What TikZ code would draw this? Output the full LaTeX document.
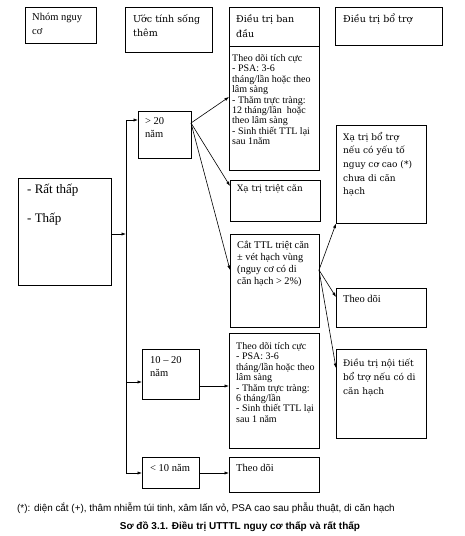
\documentclass[tikz,border=0pt]{standalone}
\usepackage{fontspec}
\setmainfont{Liberation Serif}
\newfontfamily\footfont{Liberation Sans}
\newfontfamily\cambfont{DejaVu Serif}
\usetikzlibrary{arrows.meta,calc}
\begin{document}
\begin{tikzpicture}[x=1pt,y=-1pt,
  box/.style={draw=black,line width=0.6pt,inner sep=0pt,anchor=north west},
  txt/.style={inner sep=0pt,anchor=base west,align=left},
  arr/.style={line width=0.6pt,-{Latex[length=4.5pt,width=3.2pt]}},
  ln/.style={line width=0.6pt}]
\useasboundingbox (0,0) rectangle (464,536);
% boxes
\newcommand{\mybox}[5]{\node[box,minimum width=#4-#2,minimum height=#5-#3] (#1) at (#2,#3) {};}
\mybox{h1}{25}{7}{96}{43}
\mybox{h2}{125}{7}{212}{52}
\mybox{h3}{229}{7}{319}{46}
\mybox{h4}{335}{7}{442}{45}
\mybox{L}{18}{178}{111}{285}
\mybox{a1}{138}{111}{191}{158}
\mybox{a2}{142}{349}{199}{399}
\mybox{a3}{142}{457}{199}{488}
\mybox{b1}{229}{46}{319}{170}
\mybox{b2}{230}{180}{320}{221}
\mybox{b3}{230}{234}{319}{327}
\mybox{b4}{229}{333}{319}{448}
\mybox{b5}{229}{457}{319}{492}
\mybox{c1}{336}{125}{426}{223}
\mybox{c2}{336}{288}{426}{327}
\mybox{c3}{336}{349}{426}{438}
% texts (anchor = baseline of last line)
\node[txt,font=\fontsize{10.5}{14}\selectfont] (h1t) at (32,34) {Nhóm nguy\\cơ};
\node[txt,font=\cambfont\fontsize{9.5}{14}\selectfont] (h2t) at (133,36) {Ước tính sống\\thêm};
\node[txt,font=\cambfont\fontsize{9.5}{15}\selectfont] (h3t) at (236,37) {Điều trị ban\\đầu};
\node[txt,font=\cambfont\fontsize{9.5}{14}\selectfont] (h4t) at (343,22) {Điều trị bổ trợ};
\node[txt,font=\fontsize{13}{29}\selectfont] (Lt) at (27,222) {- Rất thấp\\- Thấp};
\node[txt,font=\fontsize{10.5}{13}\selectfont] (a1t) at (145,137) {> 20\\năm};
\node[txt,font=\fontsize{10.5}{13}\selectfont] (a2t) at (150,376) {10 – 20\\năm};
\node[txt,font=\fontsize{10.5}{12}\selectfont] (a3t) at (150,471) {< 10 năm};
\node[txt,font=\fontsize{10}{10.4}\selectfont] (b1t) at (232,144.7) {Theo dõi tích cực\\- PSA: 3-6\\tháng/lần hoặc theo\\lâm sàng\\- Thăm trực tràng:\\12 tháng/lần~ hoặc\\theo lâm sàng\\- Sinh thiết TTL lại\\sau 1năm};
\node[txt,font=\cambfont\fontsize{8.8}{12}\selectfont] (b2t) at (237,191) {Xạ trị triệt căn};
\node[txt,font=\fontsize{10.3}{12}\selectfont] (b3t) at (237,284) {Cắt TTL triệt căn\\± vét hạch vùng\\(nguy cơ có di\\căn hạch > 2\%)};
\node[txt,font=\fontsize{10}{10.4}\selectfont] (b4t) at (236,422.3) {Theo dõi tích cực\\- PSA: 3-6\\tháng/lần hoặc theo\\lâm sàng\\- Thăm trực tràng:\\6 tháng/lần\\- Sinh thiết TTL lại\\sau 1 năm};
\node[txt,font=\fontsize{10.5}{12}\selectfont] (b5t) at (236,471) {Theo dõi};
\node[txt,font=\cambfont\fontsize{9}{13.7}\selectfont] (c1t) at (343,194.8) {Xạ trị bổ trợ\\nếu có yếu tố\\nguy cơ cao (*)\\chưa di căn\\hạch};
\node[txt,font=\fontsize{10.5}{12}\selectfont] (c2t) at (343,302) {Theo dõi};
\node[txt,font=\cambfont\fontsize{9}{14}\selectfont] (c3t) at (343,394) {Điều trị nội tiết\\bổ trợ nếu có di\\căn hạch};
% connector coordinates
\coordinate (sTop) at (126,120);
\coordinate (sL) at (126,234);
\coordinate (s2) at (126,382);
\coordinate (sBot) at (126,473);
\coordinate (a1o) at (191,123);
\coordinate (b3o) at (319,270);
% connectors
\draw[ln] (sTop) -- (sBot);
\draw[arr] (L.east |- sL) -- (sL);
\draw[arr] (sTop) -- (a1.west |- sTop);
\draw[arr] (s2) -- (a2.west |- s2);
\draw[arr] (sBot) -- (a3.west |- sBot);
\draw[arr] (a1o) -- (b1.west |- 0,97);
\draw[arr] (a1o) -- (b2.west |- 0,186);
\draw[arr] (a1o) -- (b3.west |- 0,270);
\draw[arr] (b3o) -- (c1.south west);
\draw[arr] (b3o) -- (c2.west |- 0,297);
\draw[arr] (b3o) -- (c3.west |- 0,368);
\draw[arr] (a2.east |- 0,386) -- (b4.west |- 0,386);
\draw[arr] (a3.east |- sBot) -- (b5.west |- sBot);
% footnote and caption
\node[txt,font=\footfont\fontsize{9.9}{11}\selectfont] (fn) at (17,511.5) {(*): diện cắt (+), thâm nhiễm túi tinh, xâm lấn vỏ, PSA cao sau phẫu thuật, di căn hạch};
\node[anchor=base,inner sep=0pt,font=\footfont\bfseries\fontsize{10}{11}\selectfont] (cap) at (240,529.5) {Sơ đồ 3.1. Điều trị UTTTL nguy cơ thấp và rất thấp};
\end{tikzpicture}
\end{document}
